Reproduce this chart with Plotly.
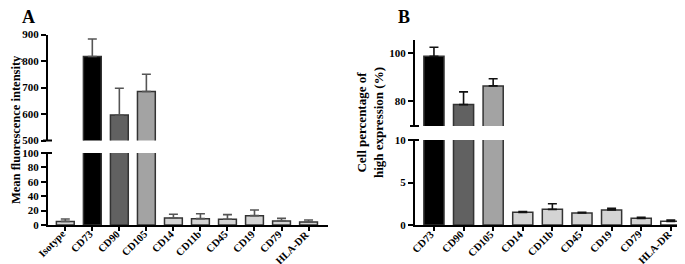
import plotly.graph_objects as go

W, H = 685, 264

# ---- data ----
cats_a = ["Isotype", "CD73", "CD90", "CD105", "CD14", "CD11b", "CD45", "CD19", "CD79", "HLA-DR"]
vals_a = [5, 817, 596, 685, 9.7, 8.8, 7.9, 13, 5.5, 4.2]
errs_a = [3.3, 66, 101, 65, 5.3, 6.9, 6.5, 7.8, 3.7, 2.7]
cols_a = ["#d4d4d4", "#000000", "#616161", "#a3a3a3", "#d4d4d4", "#d4d4d4",
          "#d4d4d4", "#d4d4d4", "#d4d4d4", "#d4d4d4"]

cats_b = ["CD73", "CD90", "CD105", "CD14", "CD11b", "CD45", "CD19", "CD79", "HLA-DR"]
vals_b = [98.6, 78.5, 86.3, 1.49, 1.84, 1.41, 1.76, 0.78, 0.43]
errs_b = [3.8, 5.3, 3.0, 0.08, 0.66, 0.08, 0.2, 0.12, 0.16]
cols_b = ["#000000", "#616161", "#a3a3a3", "#d4d4d4", "#d4d4d4", "#d4d4d4",
          "#d4d4d4", "#d4d4d4", "#ffffff"]

ticks_a_top = [500, 600, 700, 800, 900]
ticks_a_bot = [0, 20, 40, 60, 80, 100]
ticks_b_top = [80, 100]
ticks_b_bot = [0, 5, 10]


def px_x(p):
    return p / W


def px_y(p):
    return 1 - p / H


# layout geometry (pixels)
ax_a = [px_x(40), px_x(320)]
ax_b = [px_x(407), px_x(685)]
ya_bot = [px_y(217), px_y(145)]
ya_top = [px_y(132.5), px_y(26.5)]
yb_bot = [px_y(217), px_y(132)]
yb_top = [px_y(118), px_y(32)]

FONT = "Liberation Serif"

fig = go.Figure()


def add_bars(cats, vals, errs, cols, xa, ya, ecol, width):
    fig.add_trace(go.Bar(
        x=cats, y=vals, xaxis=xa, yaxis=ya, width=width,
        marker=dict(color=cols, line=dict(color="#333333", width=1.5)),
        error_y=dict(type="data", array=errs, arrayminus=[0] * len(errs),
                     symmetric=False, color=ecol, thickness=1.6, width=4.5),
        showlegend=False, hoverinfo="x+y",
    ))


add_bars(cats_a, vals_a, errs_a, cols_a, "x", "y", "#555555", 0.66)
add_bars(cats_a, vals_a, errs_a, cols_a, "x2", "y2", "#555555", 0.66)
add_bars(cats_b, vals_b, errs_b, cols_b, "x3", "y3", "#111111", 0.68)
add_bars(cats_b, vals_b, errs_b, cols_b, "x4", "y4", "#111111", 0.68)

tickfont = dict(family=FONT, size=11, color="black", weight="bold")

yax_common = dict(showline=True, linewidth=2, linecolor="black", ticks="outside",
                  ticklen=5, tickwidth=2, tickcolor="black", showgrid=False,
                  zeroline=False, tickfont=tickfont, fixedrange=True,
                  automargin=False)
xax_common = dict(showline=True, linewidth=2, linecolor="black", ticks="outside",
                  ticklen=4, tickwidth=1.5, tickcolor="black", showgrid=False,
                  showticklabels=False, fixedrange=True, automargin=False)

fig.update_layout(
    width=W, height=H, margin=dict(l=0, r=0, t=0, b=0, autoexpand=False),
    paper_bgcolor="white", plot_bgcolor="white",
    xaxis=dict(domain=ax_a, anchor="y", range=[-0.64, 9.72], **xax_common),
    xaxis2=dict(domain=ax_a, anchor="y2", matches="x", visible=False),
    xaxis3=dict(domain=ax_b, anchor="y3", range=[-0.64, 8.75], **xax_common),
    xaxis4=dict(domain=ax_b, anchor="y4", matches="x3", visible=False),
    yaxis=dict(domain=ya_bot, anchor="x", range=[0, 100], tickvals=ticks_a_bot, **yax_common),
    yaxis2=dict(domain=ya_top, anchor="x2", range=[500, 900], tickvals=ticks_a_top, **yax_common),
    yaxis3=dict(domain=yb_bot, anchor="x3", range=[0, 10], tickvals=ticks_b_bot, **yax_common),
    yaxis4=dict(domain=yb_top, anchor="x4", range=[69.6, 105.4], tickvals=ticks_b_top, **yax_common),
)

# break caps at segment ends
shapes = []
for xd, yv in [(ax_a[0], ya_top[0]), (ax_a[0], ya_bot[1]),
               (ax_b[0], yb_top[0]), (ax_b[0], yb_bot[1])]:
    shapes.append(dict(type="line", xref="paper", yref="paper",
                       x0=xd - px_x(5), x1=xd + px_x(4), y0=yv, y1=yv,
                       line=dict(color="black", width=2)))
fig.update_layout(shapes=shapes)

lblfont = dict(family=FONT, size=10.5, color="black", weight="bold")
annos = []
# rotated category labels (one per category, positioned by the category axis)
for xref, cats in [("x", cats_a), ("x3", cats_b)]:
    for c in cats:
        annos.append(dict(text=c, x=c, xref=xref, y=px_y(219), yref="paper",
                          textangle=-45, xanchor="right", yanchor="top",
                          xshift=4, showarrow=False, borderpad=0,
                          font=dict(lblfont)))

annos += [
    dict(text="A", x=px_x(20), y=px_y(9), font=dict(family=FONT, size=18, weight="bold")),
    dict(text="B", x=px_x(396), y=px_y(9), font=dict(family=FONT, size=18, weight="bold")),
    dict(text="Mean fluorescence intensity", x=px_x(8), y=px_y(122), textangle=-90,
         font=dict(family=FONT, size=12.5, weight="bold")),
    dict(text="Cell percentage of<br>high expression (%)", x=px_x(362), y=px_y(115),
         textangle=-90, font=dict(family=FONT, size=13, weight="bold")),
]
for a in annos[-4:]:
    a.update(xref="paper", yref="paper", showarrow=False, xanchor="center", yanchor="middle",
             borderpad=0)
for a in annos:
    a["font"]["color"] = "black"
fig.update_layout(annotations=annos)

fig.write_html("out.html")
